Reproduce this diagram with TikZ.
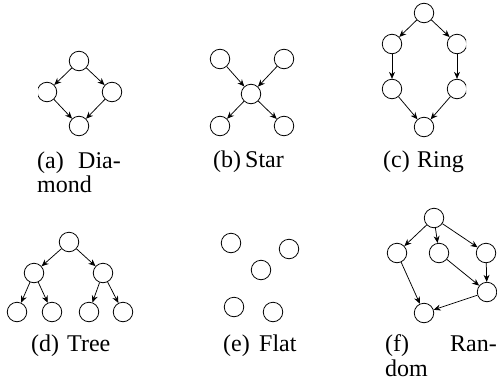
\documentclass[tikz,border=0pt]{standalone}
\usepackage{fontspec}
\setmainfont{Liberation Serif}
\usetikzlibrary{arrows.meta}
\begin{document}
\begin{tikzpicture}[x=1pt,y=-1pt,
  vtx/.style={draw,circle,minimum size=19.5pt,inner sep=0pt,line width=0.8pt},
  arr/.style={-{Stealth[length=7pt,width=6pt]},line width=0.75pt},
  captxt/.style={anchor=base west,inner sep=0pt,font=\fontsize{24}{25}\selectfont}]
\useasboundingbox (0,0) rectangle (497,388);
% (a) Diamond
\begin{scope}
\clip (38,0) rectangle (160,150);
\node[vtx] (a1) at (79,61) {};
\node[vtx] (a2) at (47,92) {};
\node[vtx] (a3) at (112,92) {};
\node[vtx] (a4) at (79,126) {};
\end{scope}
\draw[arr] (a1) -- (a2);
\draw[arr] (a1) -- (a3);
\draw[arr] (a2) -- (a4);
\draw[arr] (a3) -- (a4);
\node[captxt] (ca1) at (37,168) {(a)};
\node[captxt] (ca2) at (78,168) {Dia-};
\node[captxt] (ca3) at (37,192) {mond};
% (b) Star
\node[vtx] (b1) at (220,59) {};
\node[vtx] (b2) at (284,59) {};
\node[vtx] (b0) at (251,94) {};
\node[vtx] (b3) at (220,126) {};
\node[vtx] (b4) at (284,126) {};
\draw[arr] (b1) -- (b0);
\draw[arr] (b2) -- (b0);
\draw[arr] (b0) -- (b3);
\draw[arr] (b0) -- (b4);
\node[captxt] (cb1) at (213,167) {(b)};
\node[captxt] (cb2) at (245,167) {Star};
% (c) Ring
\begin{scope}
\clip (330,0) rectangle (466,150);
\node[vtx] (c1) at (424,13) {};
\node[vtx] (c2) at (392,44) {};
\node[vtx] (c3) at (457,44) {};
\node[vtx] (c4) at (392,89) {};
\node[vtx] (c5) at (457,89) {};
\node[vtx] (c6) at (424,127) {};
\end{scope}
\draw[arr] (c1) -- (c2);
\draw[arr] (c1) -- (c3);
\draw[arr] (c2) -- (c4);
\draw[arr] (c3) -- (c5);
\draw[arr] (c4) -- (c6);
\draw[arr] (c5) -- (c6);
\node[captxt] (cc1) at (383,167) {(c)};
\node[captxt] (cc2) at (417,167) {Ring};
% (d) Tree
\node[vtx] (d1) at (69,242) {};
\node[vtx] (d2) at (34,273) {};
\node[vtx] (d3) at (103,273) {};
\node[vtx] (d4) at (17,312) {};
\node[vtx] (d5) at (52,312) {};
\node[vtx] (d6) at (89,312) {};
\node[vtx] (d7) at (123,312) {};
\draw[arr] (d1) -- (d2);
\draw[arr] (d1) -- (d3);
\draw[arr] (d2) -- (d4);
\draw[arr] (d2) -- (d5);
\draw[arr] (d3) -- (d6);
\draw[arr] (d3) -- (d7);
\node[captxt] (cd1) at (31,351) {(d)};
\node[captxt] (cd2) at (67,351) {Tree};
% (e) Flat
\node[vtx] (e1) at (231,243) {};
\node[vtx] (e2) at (289,249) {};
\node[vtx] (e3) at (261,270) {};
\node[vtx] (e4) at (234,307) {};
\node[vtx] (e5) at (273,312) {};
\node[captxt] (ce1) at (223,351) {(e)};
\node[captxt] (ce2) at (259,351) {Flat};
% (f) Random
\node[vtx] (f1) at (434,218) {};
\node[vtx] (f2) at (397,253) {};
\node[vtx] (f3) at (439,253) {};
\node[vtx] (f4) at (486,253) {};
\node[vtx] (f5) at (487,292) {};
\node[vtx] (f6) at (424,313) {};
\draw[arr] (f1) -- (f2);
\draw[arr] (f1) -- (f3);
\draw[arr] (f1) -- (f4);
\draw[arr] (f2) -- (f6);
\draw[arr] (f3) -- (f5);
\draw[arr] (f4) -- (f5);
\draw[arr] (f5) -- (f6);
\node[captxt] (cf1) at (385,351) {(f)};
\node[captxt] (cf2) at (450,351) {Ran-};
\node[captxt] (cf3) at (385,376) {dom};
\end{tikzpicture}
\end{document}
